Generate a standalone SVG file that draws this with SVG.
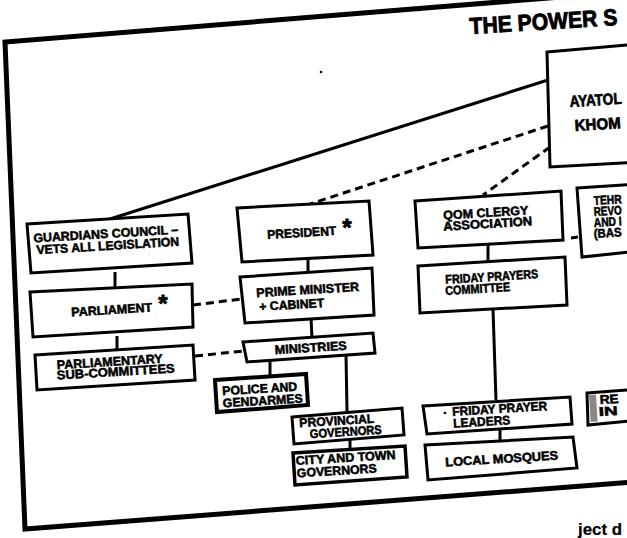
<svg xmlns="http://www.w3.org/2000/svg" width="627" height="538" viewBox="0 0 627 538">
<style>
.box{fill:#fff;stroke:#000;stroke-width:3;stroke-linejoin:miter}
.t{font-family:"Liberation Sans",Arial,sans-serif;font-weight:bold;font-size:12.5px;fill:#000;stroke:#000;stroke-width:0.55;text-anchor:middle}
.s{text-anchor:start}
.c{stroke:#000;stroke-width:3;fill:none}
.d{stroke:#000;stroke-width:3;fill:none;stroke-dasharray:8 5}
.ast{font-family:"Liberation Sans",Arial,sans-serif;font-weight:bold;font-size:24px;fill:#000;stroke:#000;stroke-width:0.8;text-anchor:middle}
</style>
<rect width="627" height="538" fill="#fff"/>
<path d="M660,-11 L5,42 L25,529 L660,480" fill="none" stroke="#000" stroke-width="5"/>
<text class="t s" x="470" y="34" style="font-size:23px;stroke-width:0.9" textLength="148" lengthAdjust="spacingAndGlyphs" transform="rotate(-3.5 470 34)">THE POWER S</text>
<circle cx="321" cy="72" r="1.3" fill="#000"/>

<g id="connectors">
<path class="c" d="M548,80 L110,219"/>
<path class="d" d="M548,126 L310,204"/>
<path class="d" d="M550,147 L483,195"/>
<path class="c" d="M115,272 L115,289"/>
<path class="c" d="M117,336 L117,349"/>
<path class="c" d="M308,257 L308,273"/>
<path class="c" d="M311,318 L312,338"/>
<path class="c" d="M270,361 L270,378"/>
<path class="c" d="M346,355 L347,411"/>
<path class="c" d="M350,438 L350,450"/>
<path class="c" d="M488,244 L488,262"/>
<path class="c" d="M493,309 L496,400"/>
<path class="c" d="M500,428 L500,441"/>
<path class="d" d="M193,305 L241,299"/>
<path class="d" d="M195,356 L244,351"/>
<path class="c" d="M571,238 L578,237"/>
</g>

<g id="ayatollah">
<polygon class="box" points="547,52 640,44 640,162 550,167"/>
<text class="t s" style="font-size:16px;stroke-width:0.7" x="570" y="107" textLength="52" lengthAdjust="spacingAndGlyphs" transform="rotate(-3.5 570 107)">AYATOL</text>
<text class="t s" style="font-size:16px;stroke-width:0.7" x="575" y="131" textLength="46" lengthAdjust="spacingAndGlyphs" transform="rotate(-3.5 575 131)">KHOM</text>
</g>

<g id="guardians">
<polygon class="box" points="27,224 188,214 192,263 31,273"/>
<text class="t" x="106" y="238" textLength="145" lengthAdjust="spacingAndGlyphs" transform="rotate(-3.5 106 238)">GUARDIANS COUNCIL –</text>
<text class="t" x="108" y="250" textLength="143" lengthAdjust="spacingAndGlyphs" transform="rotate(-3.5 108 250)">VETS ALL LEGISLATION</text>
</g>

<g id="president">
<polygon class="box" points="237,208 369,201 373,255 242,262"/>
<text class="t" x="302" y="237" textLength="69" lengthAdjust="spacingAndGlyphs" transform="rotate(-3.5 302 237)">PRESIDENT</text>
<text class="ast" x="347" y="236">*</text>
</g>

<g id="pm">
<polygon class="box" points="240,277 372,268 374,315 245,323"/>
<text class="t" x="308" y="294" textLength="103" lengthAdjust="spacingAndGlyphs" transform="rotate(-3.5 308 294)">PRIME MINISTER</text>
<text class="t" x="292" y="309" textLength="65" lengthAdjust="spacingAndGlyphs" transform="rotate(-3.5 292 309)">+ CABINET</text>
</g>

<g id="ministries">
<polygon class="box" points="243,342 373,333 375,353 247,362"/>
<text class="t" x="311" y="352" textLength="72" lengthAdjust="spacingAndGlyphs" transform="rotate(-3.5 311 352)">MINISTRIES</text>
</g>

<g id="police">
<polygon class="box" style="stroke-width:4" points="215,380 306,374 308,405 217,412"/>
<text class="t" x="260" y="393" textLength="75" lengthAdjust="spacingAndGlyphs" transform="rotate(-3.5 260 393)">POLICE AND</text>
<text class="t" x="263" y="405" textLength="80" lengthAdjust="spacingAndGlyphs" transform="rotate(-3.5 263 405)">GENDARMES</text>
</g>

<g id="provincial">
<polygon class="box" points="292,417 402,408 404,435 294,444"/>
<text class="t" x="337" y="425" textLength="75" lengthAdjust="spacingAndGlyphs" transform="rotate(-3.5 337 425)">PROVINCIAL</text>
<text class="t" x="346" y="436" textLength="72" lengthAdjust="spacingAndGlyphs" transform="rotate(-3.5 346 436)">GOVERNORS</text>
</g>

<g id="city">
<polygon class="box" style="stroke-width:3.5" points="293,453 405,446 407,477 295,485"/>
<text class="t" x="346" y="462" textLength="100" lengthAdjust="spacingAndGlyphs" transform="rotate(-3.5 346 462)">CITY AND TOWN</text>
<text class="t" x="337" y="475" textLength="80" lengthAdjust="spacingAndGlyphs" transform="rotate(-3.5 337 475)">GOVERNORS</text>
</g>

<g id="qom">
<polygon class="box" points="415,201 561,191 563,240 418,248"/>
<text class="t" x="486" y="217" textLength="85" lengthAdjust="spacingAndGlyphs" transform="rotate(-3.5 486 217)">QOM CLERGY</text>
<text class="t" x="488" y="228" textLength="89" lengthAdjust="spacingAndGlyphs" transform="rotate(-3.5 488 228)">ASSOCIATION</text>
</g>

<g id="friday-committee">
<polygon class="box" points="418,266 565,257 567,305 420,313"/>
<text class="t" x="492" y="281" textLength="93" lengthAdjust="spacingAndGlyphs" transform="rotate(-3.5 492 281)">FRIDAY PRAYERS</text>
<text class="t" x="478" y="293" textLength="65" lengthAdjust="spacingAndGlyphs" transform="rotate(-3.5 478 293)">COMMITTEE</text>
</g>

<g id="friday-leaders">
<polygon class="box" points="423,406 570,397 572,424 427,434"/>
<text class="t" x="445" y="414" transform="rotate(-3.5 445 414)">.</text>
<text class="t" x="500" y="413" textLength="95" lengthAdjust="spacingAndGlyphs" transform="rotate(-3.5 500 413)">FRIDAY PRAYER</text>
<text class="t" x="482" y="426" textLength="57" lengthAdjust="spacingAndGlyphs" transform="rotate(-3.5 482 426)">LEADERS</text>
</g>

<g id="local-mosques">
<polygon class="box" points="425,445 573,437 577,468 428,480"/>
<text class="t" x="502" y="463" textLength="113" lengthAdjust="spacingAndGlyphs" transform="rotate(-3.5 502 463)">LOCAL MOSQUES</text>
</g>

<g id="parliament">
<polygon class="box" points="30,292 192,284 193,327 33,337"/>
<text class="t" x="112" y="314" textLength="81" lengthAdjust="spacingAndGlyphs" transform="rotate(-3.5 112 314)">PARLIAMENT</text>
<text class="ast" x="163" y="312">*</text>
</g>

<g id="subcommittees">
<polygon class="box" points="35,355 193,345 195,380 37,390"/>
<text class="t" x="110" y="366" textLength="106" lengthAdjust="spacingAndGlyphs" transform="rotate(-3.5 110 366)">PARLIAMENTARY</text>
<text class="t" x="116" y="376" textLength="118" lengthAdjust="spacingAndGlyphs" transform="rotate(-3.5 116 376)">SUB-COMMITTEES</text>
</g>

<g id="tehran">
<polygon class="box" points="577,188 640,184 640,251 582,257"/>
<text class="t s" x="594" y="205" textLength="28" lengthAdjust="spacingAndGlyphs" transform="rotate(-3.5 594 205)">TEHR</text>
<text class="t s" x="594" y="216" textLength="28" lengthAdjust="spacingAndGlyphs" transform="rotate(-3.5 594 216)">REVO</text>
<text class="t s" x="594" y="227" textLength="28" lengthAdjust="spacingAndGlyphs" transform="rotate(-3.5 594 227)">AND I</text>
<text class="t s" x="594" y="238" textLength="28" lengthAdjust="spacingAndGlyphs" transform="rotate(-3.5 594 238)">(BAS</text>
</g>

<g id="re-in">
<polygon class="box" points="587,393 640,389 640,420 588,425"/>
<rect x="589" y="395" width="7" height="27" fill="#888" transform="rotate(-3.5 589 395)"/>
<text class="t s" x="600" y="404" textLength="19" lengthAdjust="spacingAndGlyphs" transform="rotate(-3.5 600 404)">RE</text>
<text class="t s" x="599" y="416" textLength="19" lengthAdjust="spacingAndGlyphs" transform="rotate(-3.5 599 416)">IN</text>
</g>

<text class="t s" style="font-size:17px;stroke-width:0.2" x="578" y="535" textLength="44" lengthAdjust="spacingAndGlyphs">ject d</text>
</svg>
